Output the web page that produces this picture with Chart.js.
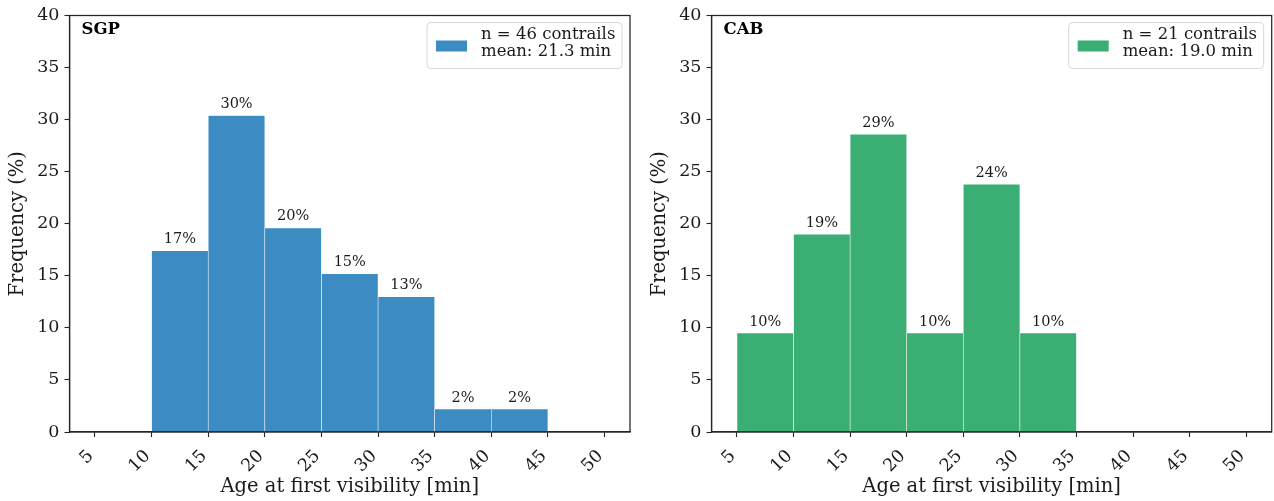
<!DOCTYPE html>
<html>
<head>
<meta charset="utf-8">
<script src="https://cdn.jsdelivr.net/npm/chart.js@4.4.1/dist/chart.umd.min.js"></script>
<style>
  html, body { margin: 0; padding: 0; background: #fff; overflow: hidden; }
  #wrap { position: relative; width: 1274px; height: 501px; }
  .cv { position: absolute; top: 0; }
</style>
</head>
<body>
<div id="wrap">
  <canvas id="c1" class="cv" width="640" height="501" style="left:0px;width:640px;height:501px"></canvas>
  <canvas id="c2" class="cv" width="632" height="501" style="left:642px;width:632px;height:501px"></canvas>
</div>
<script>
// ---- data ----
const binCenters = [7.5, 12.5, 17.5, 22.5, 27.5, 32.5, 37.5, 42.5];
const sgpFreq = [0, 17.4, 30.4, 19.6, 15.2, 13.0, 2.2, 2.2];
const cabFreq = [9.5, 19.0, 28.6, 9.5, 23.8, 9.5, 0, 0];
const xTickValues = [5, 10, 15, 20, 25, 30, 35, 40, 45, 50];
const yTickValues = [0, 5, 10, 15, 20, 25, 30, 35, 40];
const sgpLegend = ['n = 46 contrails', 'mean: 21.3 min'];
const cabLegend = ['n = 21 contrails', 'mean: 19.0 min'];
const xTitle = 'Age at first visibility [min]';
const yTitle = 'Frequency (%)';

const FONT = "'DejaVu Serif', serif";
const AXIS = '#262626';

const framePlugin = {
  id: 'frame',
  afterDraw(chart) {
    const {ctx, chartArea: a} = chart;
    ctx.save();
    ctx.strokeStyle = AXIS;
    ctx.lineWidth = 1.25;
    ctx.strokeRect(a.left, a.top, a.right - a.left, a.bottom - a.top);
    ctx.restore();
  }
};

const barLabelPlugin = {
  id: 'barLabels',
  afterDatasetsDraw(chart) {
    const {ctx} = chart;
    const meta = chart.getDatasetMeta(0);
    const vals = chart.data.datasets[0].data;
    ctx.save();
    ctx.font = "14.5px " + FONT;
    ctx.fillStyle = '#1a1a1a';
    ctx.textAlign = 'center';
    ctx.textBaseline = 'bottom';
    meta.data.forEach((el, i) => {
      const v = vals[i].y;
      if (v > 0) ctx.fillText(Math.round(v) + '%', el.x, el.y - 4);
    });
    ctx.restore();
  }
};

const infoPlugin = {
  id: 'info',
  afterDraw(chart, args, opts) {
    const {ctx, chartArea: a} = chart;
    ctx.save();
    ctx.font = "bold 16.5px " + FONT;
    ctx.fillStyle = '#000';
    ctx.textAlign = 'left';
    ctx.textBaseline = 'middle';
    ctx.fillText(opts.tag, a.left + 12, a.top + 14);
    const w = 195, h = 46;
    const x = a.right - 8 - w, y = a.top + 7;
    const r = 4;
    ctx.beginPath();
    ctx.moveTo(x + r, y);
    ctx.lineTo(x + w - r, y);
    ctx.quadraticCurveTo(x + w, y, x + w, y + r);
    ctx.lineTo(x + w, y + h - r);
    ctx.quadraticCurveTo(x + w, y + h, x + w - r, y + h);
    ctx.lineTo(x + r, y + h);
    ctx.quadraticCurveTo(x, y + h, x, y + h - r);
    ctx.lineTo(x, y + r);
    ctx.quadraticCurveTo(x, y, x + r, y);
    ctx.closePath();
    ctx.fillStyle = 'rgba(255,255,255,0.8)';
    ctx.fill();
    ctx.strokeStyle = '#d6d6d6';
    ctx.lineWidth = 1;
    ctx.stroke();
    ctx.fillStyle = opts.color;
    ctx.fillRect(x + 9, y + 18, 31, 11);
    ctx.fillStyle = '#1a1a1a';
    ctx.font = "16.5px " + FONT;
    ctx.textBaseline = 'middle';
    ctx.fillText(opts.lines[0], x + 54, y + 12.5);
    ctx.fillText(opts.lines[1], x + 54, y + 29.5);
    ctx.restore();
  }
};

function makeChart(id, freq, color, tag, lines, rightPad) {
  const pts = binCenters.map((c, i) => ({x: c, y: freq[i]}));
  return new Chart(document.getElementById(id), {
    type: 'bar',
    data: {
      datasets: [{
        data: pts,
        backgroundColor: color,
        borderColor: 'rgba(255,255,255,0.75)',
        borderWidth: 0.6,
        barPercentage: 1.0,
        categoryPercentage: 1.0
      }]
    },
    options: {
      responsive: false,
      animation: false,
      layout: { padding: { left: 0, right: rightPad, top: 12, bottom: 0 } },
      plugins: {
        legend: { display: false },
        tooltip: { enabled: false },
        info: { tag: tag, lines: lines, color: color }
      },
      scales: {
        x: {
          type: 'linear',
          offset: false,
          min: 2.75,
          max: 52.25,
          afterBuildTicks: (s) => { s.ticks = xTickValues.map(v => ({value: v})); },
          afterFit: (s) => { s.height = 69; },
          grid: { display: true, offset: false, drawOnChartArea: false, drawTicks: true, tickLength: 5, tickColor: AXIS, tickWidth: 1.1 },
          border: { display: true, color: AXIS, width: 1.25 },
          ticks: {
            autoSkip: false, minRotation: 45, maxRotation: 45, padding: 9, labelOffset: -4,
            color: '#1a1a1a', font: { family: FONT, size: 17.5 },
            callback: (v) => String(v)
          },
          title: { display: true, text: xTitle, color: '#1a1a1a', font: { family: FONT, size: 19.5 }, padding: { top: 0, bottom: 2 } }
        },
        y: {
          min: 0,
          max: 40,
          afterBuildTicks: (s) => { s.ticks = yTickValues.map(v => ({value: v})); },
          afterFit: (s) => { s.width = 69.5; },
          grid: { display: true, drawOnChartArea: false, drawTicks: true, tickLength: 5, tickColor: AXIS, tickWidth: 1.1 },
          border: { display: true, color: AXIS, width: 1.25 },
          ticks: { padding: 5, color: '#1a1a1a', font: { family: FONT, size: 17.5 } },
          title: { display: true, text: yTitle, color: '#1a1a1a', font: { family: FONT, size: 19.5 }, padding: { top: 6, bottom: 0 } }
        }
      }
    },
    plugins: [framePlugin, barLabelPlugin, infoPlugin]
  });
}

makeChart('c1', sgpFreq, 'rgb(60,139,195)', 'SGP', sgpLegend, 10);
makeChart('c2', cabFreq, 'rgb(59,174,116)', 'CAB', cabLegend, 2.3);
</script>
</body>
</html>
